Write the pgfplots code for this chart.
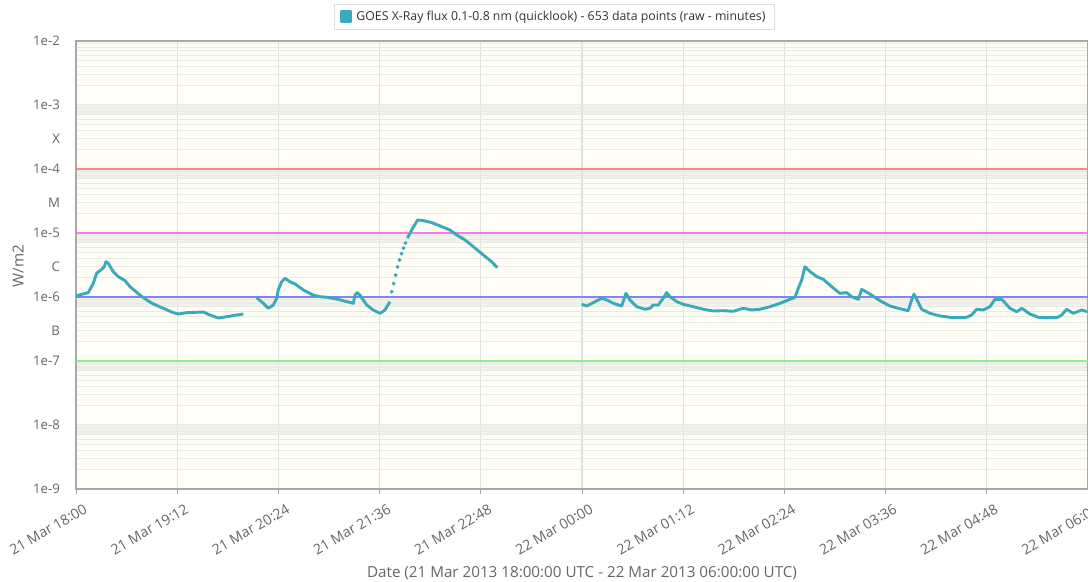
\documentclass[border=0pt]{standalone}
\usepackage{pgfplots}
\pgfplotsset{compat=1.18}
\usepackage{fontspec}
\setmainfont{Open Sans}
\definecolor{serie}{HTML}{3AA9BA}
\definecolor{cream}{HTML}{FEFDF6}
\definecolor{band}{HTML}{F2F1EC}
\definecolor{mgrid}{HTML}{EAEAE4}
\definecolor{vgrid}{HTML}{E0E0DC}
\definecolor{axl}{HTML}{A8A8A8}
\definecolor{lab}{HTML}{666666}
\definecolor{redl}{HTML}{FF8585}
\definecolor{magl}{HTML}{F07CF0}
\definecolor{bluel}{HTML}{8282FF}
\definecolor{greenl}{HTML}{90EE90}
\begin{document}
\begin{tikzpicture}
\begin{axis}[
  at={(38pt,46.5pt)}, anchor=south west,
  scale only axis, width=506pt, height=224pt,
  set layers,
  ymode=log, xmin=0, xmax=720, ymin=1e-9, ymax=1e-2,
  font=\fontsize{6.6}{7.8}\selectfont,
  axis line style={axl, line width=0.9pt},
  xtick={0,72,144,216,288,360,432,504,576,648,720},
  xticklabels={21 Mar 18:00,21 Mar 19:12,21 Mar 20:24,21 Mar 21:36,21 Mar 22:48,22 Mar 00:00,22 Mar 01:12,22 Mar 02:24,22 Mar 03:36,22 Mar 04:48,22 Mar 06:00},
  xticklabel style={rotate=30, anchor=north east, text=lab, inner sep=1pt, yshift=-4.5pt, xshift=2pt, font=\fontsize{7.1}{8.4}\selectfont},
  xtick pos=bottom, ytick pos=left,
  tick align=outside,
  major tick length=2.5pt, minor tick length=2pt,
  xtick style={axl, line width=0.5pt},
  ytick={1e-9,1e-8,1e-7,3e-7,1e-6,3e-6,1e-5,3e-5,1e-4,3e-4,1e-3,1e-2},
  yticklabels={1e-9,1e-8,1e-7,B,1e-6,C,1e-5,M,1e-4,X,1e-3,1e-2},
  yticklabel style={text=lab, xshift=-2pt},
  ytick style={draw=none},
  minor ytick={2e-9,3e-9,4e-9,5e-9,6e-9,7e-9,8e-9,9e-9,1e-8,2e-8,3e-8,4e-8,5e-8,6e-8,7e-8,8e-8,9e-8,1e-7,2e-7,3e-7,4e-7,5e-7,6e-7,7e-7,8e-7,9e-7,1e-6,2e-6,3e-6,4e-6,5e-6,6e-6,7e-6,8e-6,9e-6,1e-5,2e-5,3e-5,4e-5,5e-5,6e-5,7e-5,8e-5,9e-5,1e-4,2e-4,3e-4,4e-4,5e-4,6e-4,7e-4,8e-4,9e-4,1e-3,2e-3,3e-3,4e-3,5e-3,6e-3,7e-3,8e-3,9e-3},
  minor y tick style={axl, line width=0.4pt},
  yminorgrids, xmajorgrids, ymajorgrids=false,
  minor y grid style={mgrid, line width=0.5pt},
  major x grid style={vgrid, line width=0.6pt},
  xlabel={Date (21 Mar 2013 18:00:00 UTC - 22 Mar 2013 06:00:00 UTC)},
  xlabel style={at={(axis description cs:0.5,-0.189)}, anchor=center, text=lab, font=\fontsize{7.6}{9}\selectfont},
  ylabel={W/m2},
  ylabel style={at={(axis description cs:-0.0573,0.498)}, anchor=center, rotate=0, text=lab, font=\fontsize{7.6}{9}\selectfont},
  legend style={at={(axis description cs:0.4728,1.083)}, anchor=north, draw=black!13, fill=white, text=black!80, font=\fontsize{6.15}{7.2}\selectfont, inner xsep=2.5pt, inner ysep=1.2pt},
  legend image code/.code={\fill[serie] (0pt,-2.3pt) rectangle (5pt,2.7pt);},
]
\begin{pgfonlayer}{axis background}
\fill[cream] (axis cs:0,1e-9) rectangle (axis cs:720,1e-2);
\fill[band] (axis cs:0,1e-3) rectangle (axis cs:720,6.9e-4);
\fill[band] (axis cs:0,1e-4) rectangle (axis cs:720,6.9e-5);
\fill[band] (axis cs:0,1e-5) rectangle (axis cs:720,6.9e-6);
\fill[band] (axis cs:0,1e-6) rectangle (axis cs:720,6.9e-7);
\fill[band] (axis cs:0,1e-7) rectangle (axis cs:720,6.9e-8);
\fill[band] (axis cs:0,1e-8) rectangle (axis cs:720,6.9e-9);
\end{pgfonlayer}
% threshold lines
\addplot[redl, line width=0.9pt, forget plot] coordinates {(0,1e-4) (720,1e-4)};
\addplot[magl, line width=0.9pt, forget plot] coordinates {(0,1e-5) (720,1e-5)};
\addplot[bluel, line width=0.9pt, forget plot] coordinates {(0,1e-6) (720,1e-6)};
\addplot[greenl, line width=0.9pt, forget plot] coordinates {(0,1e-7) (720,1e-7)};
% series 1
\addplot[serie, line width=1.45pt, line join=round] table {
x y
0 1.04e-6
8.75 1.17e-6
12.3 1.64e-6
14.7 2.35e-6
18.3 2.71e-6
20.1 2.97e-6
21.3 3.56e-6
23 3.36e-6
26.5 2.49e-6
30.1 2.08e-6
34.9 1.80e-6
38.4 1.45e-6
45.5 1.07e-6
50.3 8.98e-7
55 7.78e-7
62.1 6.66e-7
69.2 5.69e-7
72.8 5.42e-7
78.8 5.69e-7
90.6 5.83e-7
95.3 5.23e-7
101.2 4.70e-7
107.2 4.92e-7
114.3 5.23e-7
119 5.42e-7
};
\addlegendentry{GOES X-Ray flux 0.1-0.8 nm (quicklook) - 653 data points (raw - minutes)}
% series 2
\addplot[serie, line width=1.45pt, line join=round, forget plot] table {
x y
128.5 9.75e-7
133.3 7.97e-7
136.8 6.66e-7
140.4 7.50e-7
142.8 9.55e-7
143.9 1.29e-6
146.3 1.73e-6
148.7 1.96e-6
152.2 1.73e-6
155.8 1.60e-6
161.7 1.29e-6
168.8 1.07e-6
173.6 1.01e-6
178.4 9.89e-7
185.5 9.30e-7
192.6 8.45e-7
197.3 7.97e-7
198.5 1.07e-6
200.1 1.17e-6
202 1.07e-6
206.8 7.50e-7
211.5 6.27e-7
216.3 5.56e-7
219.8 6.27e-7
223.4 8.45e-7
};
\addplot[serie, only marks, mark=*, mark size=0.75pt, forget plot] table {
x y
224.6 1.21e-6
226.0 1.62e-6
227.4 2.20e-6
228.8 2.95e-6
230.2 3.80e-6
231.6 4.75e-6
233.0 5.80e-6
234.4 7.00e-6
};
\addplot[serie, line width=1.45pt, line join=round, forget plot] table {
x y
235.8 8.3e-6
238.8 1.11e-5
243.1 1.60e-5
247.1 1.56e-5
253.1 1.45e-5
259 1.29e-5
266.1 1.11e-5
270.9 9.31e-6
276.8 7.78e-6
282.7 6.11e-6
289.8 4.53e-6
295.7 3.56e-6
299.7 2.87e-6
};
% series 3
\addplot[serie, line width=1.45pt, line join=round, forget plot] table {
x y
359.8 7.69e-7
363.3 7.23e-7
368 8.15e-7
374 9.55e-7
377.6 8.98e-7
382.3 7.97e-7
388.2 7.23e-7
391.3 1.14e-6
394.1 8.98e-7
398.9 7.05e-7
404.8 6.43e-7
408.4 6.66e-7
410.7 7.50e-7
414.3 7.50e-7
417.8 9.55e-7
420.2 1.17e-6
422.6 1.01e-6
427.4 8.45e-7
432.1 7.69e-7
439.2 7.05e-7
446.3 6.43e-7
453.4 6.04e-7
460.5 6.11e-7
467.6 5.98e-7
474.7 6.66e-7
480.7 6.27e-7
486.6 6.43e-7
493.7 7.05e-7
500.9 7.97e-7
508 9.20e-7
511.5 9.89e-7
513.9 1.37e-6
516.3 1.84e-6
518.6 2.97e-6
522.2 2.49e-6
527 2.08e-6
531.7 1.89e-6
537.6 1.45e-6
543.5 1.14e-6
548.3 1.17e-6
551.9 1.01e-6
556.6 9.20e-7
559 1.32e-6
564.9 1.11e-6
572 8.75e-7
579.1 7.23e-7
585 6.66e-7
592.1 6.11e-7
594.5 8.98e-7
596.2 1.11e-6
598.1 9.20e-7
601.7 6.43e-7
607.6 5.56e-7
614.7 5.05e-7
624.1 4.75e-7
633.7 4.82e-7
637.2 5.23e-7
640.8 6.43e-7
645.5 6.27e-7
650.2 7.05e-7
653.8 9.20e-7
658.6 9.20e-7
664.5 6.66e-7
669.3 5.89e-7
672.8 6.66e-7
678.7 5.42e-7
684.6 4.82e-7
690.6 4.75e-7
697.7 4.75e-7
701.3 5.23e-7
704.8 6.43e-7
709.5 5.56e-7
715.5 6.27e-7
719.5 5.89e-7
};
\end{axis}
\pgfresetboundingbox
\useasboundingbox (0,0) rectangle (544pt,291pt);
\end{tikzpicture}
\end{document}
